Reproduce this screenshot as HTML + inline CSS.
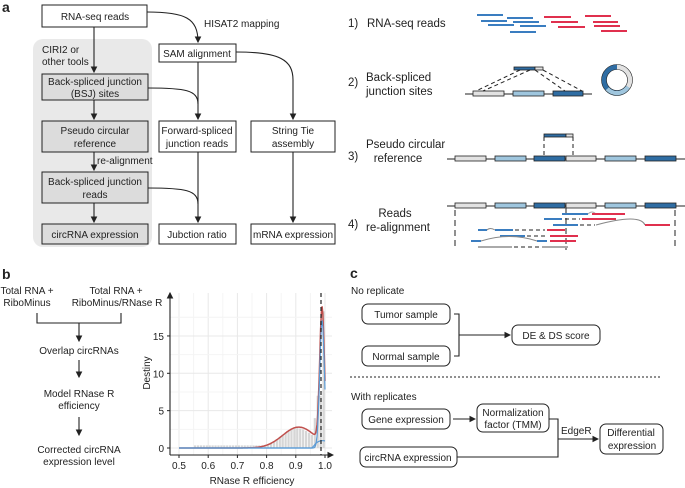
<!DOCTYPE html>
<html><head><meta charset="utf-8"><style>
body{margin:0;background:#fff}
svg{display:block;font-family:"Liberation Sans",sans-serif}
text{font-size:10px;fill:#222}
.c{text-anchor:middle}
.b{fill:#fff;stroke:#222;stroke-width:1}
.g{fill:#dcdcdc;stroke:#222;stroke-width:1}
.l{fill:none;stroke:#222;stroke-width:1.1}
.bl{stroke:#3a7dc0;stroke-width:2}
.rd{stroke:#e0304e;stroke-width:2}
.gy{stroke:#aaa;stroke-width:2}
.d{stroke:#222;stroke-width:1;stroke-dasharray:4,3;fill:none}
.e1{fill:#e2e2e2;stroke:#222;stroke-width:.8}
.e2{fill:#9fc6de;stroke:#222;stroke-width:.8}
.e3{fill:#2f6da3;stroke:#222;stroke-width:.8}
.big{font-size:11.5px}
</style></head><body>
<svg id="s" width="685" height="488" viewBox="0 0 685 488" xmlns="http://www.w3.org/2000/svg">
<defs><marker id="a" markerWidth="6" markerHeight="6" refX="5" refY="3" orient="auto"><path d="M0,0L6,3L0,6z" fill="#222"/></marker></defs>
<!-- panel a -->
<text x="2" y="12" style="font-weight:bold;font-size:14px">a</text>
<rect x="33" y="39" width="119" height="208" rx="10" fill="#e9e9e9"/>
<rect class="b" x="42" y="5" width="105" height="22"/><text class="c" x="95" y="20">RNA-seq reads</text>
<text x="42" y="53">CIRI2 or</text><text x="42" y="65">other tools</text>
<path class="l" d="M94,27V72" marker-end="url(#a)"/>
<rect class="g" x="42" y="74" width="106" height="26"/><text class="c" x="95" y="85">Back-spliced junction</text><text class="c" x="95" y="97">(BSJ) sites</text>
<path class="l" d="M94,100V119" marker-end="url(#a)"/>
<rect class="g" x="42" y="121" width="106" height="31"/><text class="c" x="95" y="134">Pseudo circular</text><text class="c" x="95" y="147">reference</text>
<path class="l" d="M94,152V170" marker-end="url(#a)"/><text x="97" y="164">re-alignment</text>
<rect class="g" x="42" y="172" width="106" height="31"/><text class="c" x="95" y="185">Back-spliced junction</text><text class="c" x="95" y="198">reads</text>
<path class="l" d="M94,203V222" marker-end="url(#a)"/>
<rect class="g" x="42" y="224" width="106" height="20"/><text class="c" x="95" y="238">circRNA expression</text>
<path class="l" d="M147,12C185,12 198,18 198,42" marker-end="url(#a)"/><text x="204" y="27">HISAT2 mapping</text>
<rect class="b" x="159" y="44" width="77" height="18"/><text class="c" x="197" y="57">SAM alignment</text>
<path class="l" d="M198,62V119" marker-end="url(#a)"/>
<path class="l" d="M148,88C185,88 198,90 198,104"/>
<path class="l" d="M236,52C280,52 293,60 293,80V119" marker-end="url(#a)"/>
<rect class="b" x="159" y="121" width="77" height="31"/><text class="c" x="197" y="134">Forward-spliced</text><text class="c" x="197" y="147">junction reads</text>
<rect class="b" x="251" y="121" width="84" height="31"/><text class="c" x="293" y="134">String Tie</text><text class="c" x="293" y="147">assembly</text>
<path class="l" d="M198,152V222" marker-end="url(#a)"/>
<path class="l" d="M148,188C185,188 198,190 198,204"/>
<path class="l" d="M293,152V222" marker-end="url(#a)"/>
<rect class="b" x="159" y="224" width="77" height="20"/><text class="c" x="197" y="238">Jubction ratio</text>
<rect class="b" x="251" y="224" width="84" height="20"/><text class="c" x="293" y="238">mRNA expression</text>
<!-- right a -->
<text x="348" y="27" class="big">1)</text><text x="367" y="27" class="big">RNA-seq reads</text>
<g>
<line class="bl" x1="477" y1="15" x2="503" y2="15"/><line class="bl" x1="507" y1="18" x2="533" y2="18"/>
<line class="bl" x1="481" y1="21" x2="507" y2="21"/><line class="bl" x1="513" y1="22" x2="539" y2="22"/>
<line class="bl" x1="488" y1="25" x2="514" y2="25"/><line class="bl" x1="520" y1="26" x2="546" y2="26"/>
<line class="bl" x1="510" y1="32" x2="536" y2="32"/>
<line class="rd" x1="544" y1="17" x2="571" y2="17"/><line class="rd" x1="585" y1="16" x2="611" y2="16"/>
<line class="rd" x1="551" y1="22" x2="578" y2="22"/><line class="rd" x1="593" y1="22" x2="618" y2="22"/>
<line class="rd" x1="558" y1="27" x2="585" y2="27"/><line class="rd" x1="594" y1="26" x2="620" y2="26"/>
<line class="rd" x1="601" y1="31" x2="627" y2="31"/>
</g>
<text x="348" y="86" class="big">2)</text><text x="366" y="81" class="big">Back-spliced</text><text x="366" y="95" class="big">junction sites</text>
<line x1="465" y1="94" x2="592" y2="94" stroke="#222"/>
<rect class="e1" x="473" y="91" width="31" height="5"/><rect class="e2" x="513" y="91" width="31" height="5"/><rect class="e3" x="553" y="91" width="30" height="5"/>
<rect class="e3" x="514" y="67" width="21" height="3"/><rect class="e1" x="535" y="67" width="8" height="3"/>
<path class="d" d="M520,70L476,91M530,70L483,91M535,70L565,91M543,70L582,91"/>
<circle cx="617" cy="80" r="13" fill="none" stroke="#2f6da3" stroke-width="5"/>
<path d="M617,67A13,13 0 0 1 628,87" fill="none" stroke="#e2e2e2" stroke-width="5"/>
<path d="M628,87A13,13 0 0 1 607,89" fill="none" stroke="#9fc6de" stroke-width="5"/>
<circle cx="617" cy="80" r="15.5" fill="none" stroke="#222" stroke-width=".6"/><circle cx="617" cy="80" r="10.5" fill="none" stroke="#222" stroke-width=".6"/>
<text x="348" y="160" class="big">3)</text><text x="366" y="148" class="big">Pseudo circular</text><text class="c big" x="398" y="162">reference</text>
<line x1="447" y1="159" x2="685" y2="159" stroke="#222"/>
<g><rect class="e1" x="455" y="156" width="31" height="5"/><rect class="e2" x="495" y="156" width="31" height="5"/><rect class="e3" x="534" y="156" width="31" height="5"/><rect class="e1" x="566" y="156" width="30" height="5"/><rect class="e2" x="605" y="156" width="31" height="5"/><rect class="e3" x="645" y="156" width="31" height="5"/></g>
<rect class="e3" x="544" y="134" width="22" height="3"/><rect class="e1" x="566" y="134" width="7" height="3"/>
<path class="d" d="M544,137V157M573,137V157"/>
<text x="348" y="228" class="big">4)</text><text class="c big" x="395" y="217">Reads</text><text class="c big" x="398" y="231">re-alignment</text>
<line x1="447" y1="206" x2="685" y2="206" stroke="#222"/>
<g><rect class="e1" x="455" y="203" width="31" height="5"/><rect class="e2" x="495" y="203" width="31" height="5"/><rect class="e3" x="534" y="203" width="31" height="5"/><rect class="e1" x="566" y="203" width="30" height="5"/><rect class="e2" x="605" y="203" width="31" height="5"/><rect class="e3" x="645" y="203" width="31" height="5"/></g>
<path class="d" d="M455,210V250M675,210V250M566,208V250" style="stroke-dasharray:6,4"/>
<g>
<line class="bl" x1="562" y1="214" x2="588" y2="214"/><path d="M588,214Q592,210 596,214" fill="none" stroke="#aaa"/><line class="rd" x1="592" y1="214" x2="625" y2="214"/>
<line class="bl" x1="544" y1="219" x2="562" y2="219"/><path class="d" d="M565,219H580"/><line class="rd" x1="582" y1="219" x2="616" y2="219"/>
<line class="bl" x1="553" y1="225" x2="578" y2="225"/><path class="d" d="M580,225H595"/><path d="M596,225Q640,213 645,225" fill="none" stroke="#888"/><line class="rd" x1="645" y1="225" x2="670" y2="225"/>
<line class="bl" x1="478" y1="230" x2="487" y2="230"/><path d="M487,230Q490,227 495,230" fill="none" stroke="#888"/><line class="bl" x1="495" y1="230" x2="513" y2="230"/><path class="d" d="M515,230H545"/><line class="rd" x1="547" y1="230" x2="565" y2="230"/>
<line class="bl" x1="500" y1="236" x2="525" y2="236"/><path class="d" d="M527,236H547"/><line class="rd" x1="550" y1="236" x2="578" y2="236"/>
<line class="bl" x1="471" y1="241" x2="481" y2="241"/><path d="M481,241Q510,232 537,241" fill="none" stroke="#888"/><line class="bl" x1="537" y1="241" x2="547" y2="241"/><line class="rd" x1="550" y1="241" x2="576" y2="241"/>
<line class="gy" x1="478" y1="247" x2="512" y2="247"/><path class="d" d="M514,247H540"/><line class="gy" x1="542" y1="247" x2="568" y2="247"/>
</g>
<!-- panel b -->
<text x="2" y="279" style="font-weight:bold;font-size:14px">b</text>
<text class="c" x="27" y="294">Total RNA +</text><text class="c" x="27" y="306">RiboMinus</text>
<text class="c" x="116" y="294">Total RNA +</text><text class="c" x="117" y="306">RiboMinus/RNase R</text>
<path class="l" d="M37,313V323H121V313M79,323V341" marker-end="url(#a)"/>
<text class="c" x="79" y="354">Overlap circRNAs</text>
<path class="l" d="M79,360V377" marker-end="url(#a)"/>
<text class="c" x="79" y="397">Model RNase R</text><text class="c" x="79" y="409">efficiency</text>
<path class="l" d="M79,417V435" marker-end="url(#a)"/>
<text class="c" x="79" y="453">Corrected circRNA</text><text class="c" x="79" y="465">expression level</text>
<g id="grid" stroke-width="1"></g>
<g id="hist" fill="#d6d6d6"></g>
<path id="rc" fill="none" stroke="#c0504d" stroke-width="1.5"/>
<path id="bc1" fill="none" stroke="#5b9bd5" stroke-width="1.2"/>
<path id="bc2" fill="none" stroke="#5b9bd5" stroke-width="1.2"/>
<line x1="321" y1="293" x2="321" y2="455" stroke="#222" stroke-dasharray="4,3" stroke-width="1.2"/>
<path class="l" d="M170,455V293" marker-end="url(#a)"/><path class="l" d="M170,455H333" marker-end="url(#a)"/>
<g id="tk"></g>
<text transform="translate(150,373) rotate(-90)" class="c">Destiny</text>
<text class="c" x="252" y="484">RNase R efficiency</text>
<!-- panel c -->
<text x="350" y="278" style="font-weight:bold;font-size:14px">c</text>
<text x="351" y="294">No replicate</text>
<rect class="b" x="362" y="304" width="88" height="20" rx="6"/><text class="c" x="406" y="318">Tumor sample</text>
<rect class="b" x="362" y="346" width="88" height="20" rx="6"/><text class="c" x="406" y="360">Normal sample</text>
<path class="l" d="M454,314H459V356H454M459,335H510" marker-end="url(#a)"/>
<rect class="b" x="512" y="325" width="88" height="20" rx="6"/><text class="c" x="556" y="339">DE &amp; DS score</text>
<line x1="350" y1="377" x2="660" y2="377" stroke="#222" stroke-dasharray="2,2"/>
<text x="351" y="400">With replicates</text>
<rect class="b" x="362" y="409" width="88" height="20" rx="6"/><text class="c" x="406" y="423">Gene expression</text>
<path class="l" d="M453,419H475" marker-end="url(#a)"/>
<rect class="b" x="477" y="404" width="72" height="28" rx="6"/><text class="c" x="513" y="416">Normalization</text><text class="c" x="513" y="428">factor (TMM)</text>
<path class="l" d="M549,419H558V457H457M558,439H598" marker-end="url(#a)"/>
<text x="561" y="434">EdgeR</text>
<rect class="b" x="600" y="424" width="63" height="30" rx="6"/><text class="c" x="631" y="436">Differential</text><text class="c" x="632" y="449">expression</text>
<rect class="b" x="360" y="447" width="97" height="20" rx="6"/><text class="c" x="408" y="461">circRNA expression</text>
</svg>
<script>
var NS="http://www.w3.org/2000/svg";
function X(v){return 179+(v-0.5)*292}function Y(d){return 448-d*7.47}
function el(p,t,a,txt){var e=document.createElementNS(NS,t);for(var k in a)e.setAttribute(k,a[k]);if(txt)e.textContent=txt;document.getElementById(p).appendChild(e);}
for(var i=0;i<=10;i++){var v=0.5+i*0.05;el("grid","line",{x1:X(v),y1:293,x2:X(v),y2:455,stroke:(i%2?"#f4f4f4":"#e8e8e8")});}
for(var i=0;i<=7;i++){var d=i*2.5;el("grid","line",{x1:170,y1:Y(d),x2:332,y2:Y(d),stroke:(i%2?"#f4f4f4":"#e8e8e8")});}
function br(x){return 2.8*Math.exp(-0.5*Math.pow((x-0.91)/0.055,2))}
function sh(x){return 18*Math.exp(-0.5*Math.pow((x-0.99)/0.008,2))}
for(var i=0;i<45;i++){var x=0.55+i*0.01;var h=Math.max(0.35,br(x+0.01)*0.95);if(i==41)h=4;if(i==42)h=7;if(i==43)h=7;if(i==44)h=18.3;el("hist","rect",{x:X(x)+0.4,y:Y(h),width:2.2,height:Y(0)-Y(h)});}
var r="",b1="",b2="";for(var i=0;i<=200;i++){var x=0.5+i*0.0025;var c=(i==0?"M":"L");r+=c+X(x).toFixed(1)+","+Y(br(x)+sh(x)).toFixed(1);b1+=c+X(x).toFixed(1)+","+Y(x<0.955?0:Math.min(2,br(x)*1.3)*(x-0.955)/0.045).toFixed(1);b2+=c+X(x).toFixed(1)+","+Y(sh(x)*0.95).toFixed(1);}
document.getElementById("rc").setAttribute("d",r);document.getElementById("bc1").setAttribute("d",b1);document.getElementById("bc2").setAttribute("d",b2);
["0.5","0.6","0.7","0.8","0.9","1.0"].forEach(function(s){var v=+s;el("tk","line",{x1:X(v),y1:455,x2:X(v),y2:458,stroke:"#222"});el("tk","text",{x:X(v),y:469,"text-anchor":"middle"},s);});
[0,5,10,15].forEach(function(d){el("tk","line",{x1:167,y1:Y(d),x2:170,y2:Y(d),stroke:"#222"});el("tk","text",{x:164,y:Y(d)+4,"text-anchor":"end"},String(d));});
</script>
</body></html>
